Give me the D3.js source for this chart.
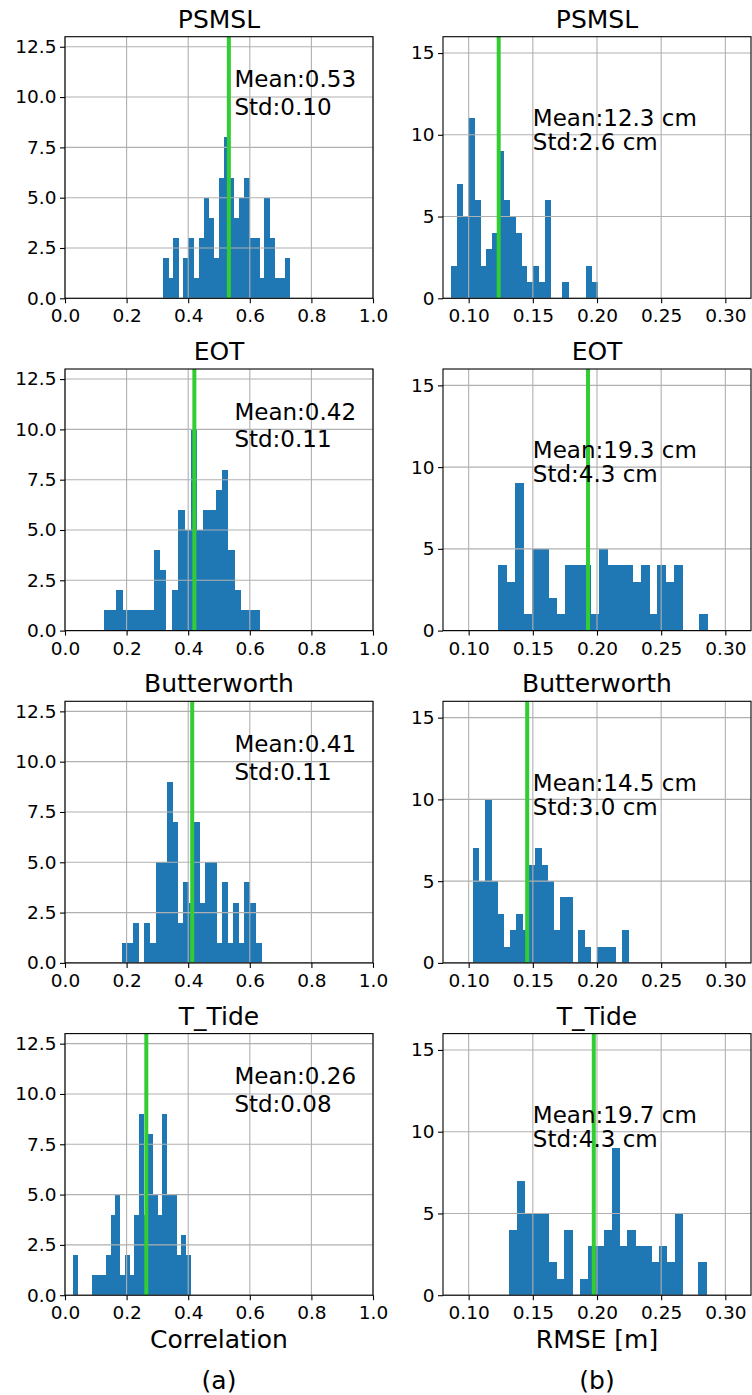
<!DOCTYPE html>
<html>
<head>
<meta charset="utf-8">
<script src="https://cdn.jsdelivr.net/npm/d3@7"></script>
<style>
  body { margin: 0; background: #fff; }
  text { font-family: "DejaVu Sans", sans-serif; }
</style>
</head>
<body>
<div id="chart"></div>
<script>
//============ Data ==========================================
var titles = ["PSMSL", "EOT", "Butterworth", "T_Tide"];

// column (a): correlation histograms, 25 bins each
var corrCounts = [
  [2,1,3,0,2,3,1,3,5,4,2,6,8,6,4,5,6,3,3,1,5,3,1,1,2],
  [1,1,2,1,1,1,1,1,4,3,0,2,6,5,10,5,6,6,7,8,4,2,1,1,1],
  [1,1,2,0,2,1,5,5,9,7,2,4,3,7,3,5,5,1,4,1,3,1,4,3,1],
  [2,0,0,0,1,1,1,2,4,5,1,2,1,4,9,4,8,5,4,9,5,5,2,3,2]
];
var corrBinLo = [0.3188, 0.1264, 0.1858, 0.0259];
var corrBinHi = [0.7293, 0.6299, 0.6364, 0.4073];
var corrMean = [0.532, 0.420, 0.413, 0.264];
var corrMeanText = ["Mean:0.53", "Mean:0.42", "Mean:0.41", "Mean:0.26"];
var corrStdText = ["Std:0.10", "Std:0.11", "Std:0.11", "Std:0.08"];

// column (b): RMSE histograms, 25 bins each
var rmseCounts = [
  [2,7,5,11,6,2,3,4,9,6,5,4,2,1,2,1,6,0,0,1,0,0,0,2,1],
  [4,3,9,1,5,5,2,1,4,4,4,1,5,4,4,4,3,4,1,4,3,4,0,0,1],
  [7,5,10,5,3,1,2,3,2,6,7,6,5,2,4,4,0,2,1,0,1,1,1,0,2],
  [4,7,5,5,5,2,1,4,0,1,3,3,4,9,3,4,3,3,2,3,2,5,0,0,2]
];
var rmseBinLo = [0.0860, 0.1231, 0.1031, 0.1314];
var rmseBinHi = [0.2003, 0.2862, 0.2244, 0.2852];
var rmseMean = [0.1234, 0.1930, 0.1456, 0.1975];
var rmseMeanText = ["Mean:12.3 cm", "Mean:19.3 cm", "Mean:14.5 cm", "Mean:19.7 cm"];
var rmseStdText = ["Std:2.6 cm", "Std:4.3 cm", "Std:3.0 cm", "Std:4.3 cm"];

// axis ticks
var corrXTicks = [0.0, 0.2, 0.4, 0.6, 0.8, 1.0];
var corrYTicks = [0.0, 2.5, 5.0, 7.5, 10.0, 12.5];
var rmseXTicks = [0.10, 0.15, 0.20, 0.25, 0.30];
var rmseYTicks = [0, 5, 10, 15];

//============ Set up page =====================
var svgWidth = 752;
var svgHeight = 1395;

var leftX = 65;
var rightX = 443;
var panelW = 308;
var panelH = 261.6;
var top0 = 36.7;
var rowStep = 332.3;

var barColor = "#1f77b4";
var meanColor = "#32cd32";
var gridColor = "#b0b0b0";

var svg = d3.select("#chart")
  .append("svg")
  .attr("width", svgWidth)
  .attr("height", svgHeight);

// draws one histogram panel
function drawPanel(opt) {
  var g = svg.append("g")
    .attr("transform", `translate(${opt.left}, ${opt.top})`);

  var x = d3.scaleLinear().domain(opt.xDomain).range([0, panelW]);
  var y = d3.scaleLinear().domain(opt.yDomain).range([panelH, 0]);

  // bin edges between first and last bar
  var n = opt.counts.length;
  var edges = d3.range(n + 1).map(i => opt.lo + i * (opt.hi - opt.lo) / n);
  var bins = opt.counts.map((c, i) => ({ x0: edges[i], x1: edges[i + 1], c: c }))
    .filter(d => d.c > 0);

  g.selectAll("rect.bar")
    .data(bins)
    .enter()
    .append("rect")
    .attr("class", "bar")
    .attr("x", d => x(d.x0))
    .attr("width", d => x(d.x1) - x(d.x0) + 0.5)
    .attr("y", d => y(d.c))
    .attr("height", d => y(0) - y(d.c))
    .attr("fill", barColor)
    .attr("shape-rendering", "crispEdges");

  // grid on top of the bars, like matplotlib
  g.selectAll("line.vgrid")
    .data(opt.xTicks)
    .enter()
    .append("line")
    .attr("x1", d => x(d)).attr("x2", d => x(d))
    .attr("y1", 0).attr("y2", panelH)
    .attr("stroke", gridColor)
    .attr("stroke-width", 1.1);

  g.selectAll("line.hgrid")
    .data(opt.yTicks)
    .enter()
    .append("line")
    .attr("x1", 0).attr("x2", panelW)
    .attr("y1", d => y(d)).attr("y2", d => y(d))
    .attr("stroke", gridColor)
    .attr("stroke-width", 1.1);

  // mean line
  g.append("line")
    .attr("x1", x(opt.mean)).attr("x2", x(opt.mean))
    .attr("y1", 0).attr("y2", panelH)
    .attr("stroke", meanColor)
    .attr("stroke-width", 4);

  // axes
  var bottomAxis = d3.axisBottom(x)
    .tickValues(opt.xTicks)
    .tickSize(5)
    .tickPadding(6)
    .tickFormat(opt.xFormat);
  var leftAxis = d3.axisLeft(y)
    .tickValues(opt.yTicks)
    .tickSize(5)
    .tickPadding(3.5)
    .tickFormat(opt.yFormat);

  var xg = g.append("g")
    .attr("transform", `translate(0, ${panelH})`)
    .call(bottomAxis);
  var yg = g.append("g").call(leftAxis);

  [xg, yg].forEach(function(a) {
    a.select(".domain").remove();
    a.selectAll("line").attr("stroke", "#000").attr("stroke-width", 1.1);
    a.selectAll("text")
      .attr("fill", "#000")
      .style("font-size", "18.5px")
      .style("font-family", "DejaVu Sans, sans-serif");
  });

  // frame
  g.append("rect")
    .attr("x", 0).attr("y", 0)
    .attr("width", panelW).attr("height", panelH)
    .attr("fill", "none")
    .attr("stroke", "#000")
    .attr("stroke-width", 1.1);

  // title
  g.append("text")
    .attr("x", panelW / 2)
    .attr("y", -9)
    .attr("text-anchor", "middle")
    .style("font-size", "25px")
    .text(opt.title);

  // mean / std annotation, centred on y = 10
  var note = g.append("text")
    .attr("x", x(opt.noteX))
    .attr("y", y(10))
    .style("font-size", "23px");
  note.append("tspan")
    .attr("x", x(opt.noteX))
    .attr("dy", opt.dy1)
    .text(opt.meanText);
  note.append("tspan")
    .attr("x", x(opt.noteX))
    .attr("dy", opt.dy2)
    .text(opt.stdText);
}

titles.forEach(function(t, i) {
  var top = top0 + i * rowStep;

  drawPanel({
    left: leftX, top: top, title: t,
    counts: corrCounts[i], lo: corrBinLo[i], hi: corrBinHi[i],
    mean: corrMean[i], meanText: corrMeanText[i], stdText: corrStdText[i],
    xDomain: [0, 1], yDomain: [0, 13],
    xTicks: corrXTicks, yTicks: corrYTicks,
    xFormat: d3.format(".1f"), yFormat: d3.format(".1f"),
    noteX: 0.55, dy1: -9.8, dy2: 27.7
  });

  drawPanel({
    left: rightX, top: top, title: t,
    counts: rmseCounts[i], lo: rmseBinLo[i], hi: rmseBinHi[i],
    mean: rmseMean[i], meanText: rmseMeanText[i], stdText: rmseStdText[i],
    xDomain: [0.08, 0.32], yDomain: [0, 16],
    xTicks: rmseXTicks, yTicks: rmseYTicks,
    xFormat: d3.format(".2f"), yFormat: d3.format("d"),
    noteX: 0.15, dy1: -8.8, dy2: 24
  });
});

//============ Column labels =====================
var lastBottom = top0 + 3 * rowStep + panelH;

svg.append("text")
  .attr("x", leftX + panelW / 2)
  .attr("y", lastBottom + 53)
  .attr("text-anchor", "middle")
  .style("font-size", "25px")
  .text("Correlation");

svg.append("text")
  .attr("x", rightX + panelW / 2)
  .attr("y", lastBottom + 53)
  .attr("text-anchor", "middle")
  .style("font-size", "25px")
  .text("RMSE [m]");

svg.append("text")
  .attr("x", leftX + panelW / 2)
  .attr("y", lastBottom + 94)
  .attr("text-anchor", "middle")
  .style("font-size", "25px")
  .text("(a)");

svg.append("text")
  .attr("x", rightX + panelW / 2)
  .attr("y", lastBottom + 94)
  .attr("text-anchor", "middle")
  .style("font-size", "25px")
  .text("(b)");
</script>
</body>
</html>
